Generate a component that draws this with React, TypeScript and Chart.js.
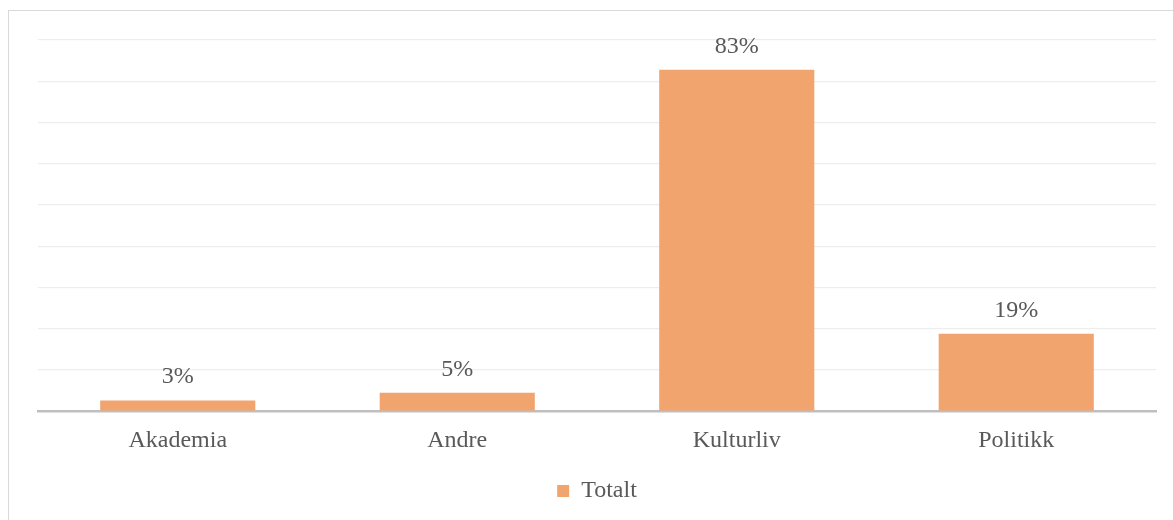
import React, { useEffect, useRef } from "react";
import { Chart, registerables } from "chart.js";

Chart.register(...registerables);

const categories = ["Akademia", "Andre", "Kulturliv", "Politikk"];
const seriesName = "Totalt";
const totalt = [2.6, 4.5, 82.8, 18.8];

const FONT = "'Liberation Serif', 'Times New Roman', serif";
const TEXT = "#595959";
const BAR = "#F1A46E";

const valueLabels = {
  id: "valueLabels",
  afterDatasetsDraw(chart: any) {
    const ctx = chart.ctx;
    ctx.save();
    ctx.font = `24px ${FONT}`;
    ctx.fillStyle = TEXT;
    ctx.textAlign = "center";
    ctx.textBaseline = "alphabetic";
    chart.data.datasets.forEach((ds: any, di: number) => {
      const meta = chart.getDatasetMeta(di);
      meta.data.forEach((bar: any, i: number) => {
        ctx.fillText(Math.round(ds.data[i]) + "%", bar.x, bar.y - 17);
      });
    });
    ctx.restore();
  },
};

export default function App() {
  const ref = useRef<HTMLCanvasElement>(null);
  useEffect(() => {
    const chart = new Chart(ref.current!, {
      type: "bar",
      data: {
        labels: categories,
        datasets: [
          {
            label: seriesName,
            data: totalt,
            backgroundColor: BAR,
            borderWidth: 0,
            barPercentage: 0.555,
            categoryPercentage: 1,
          },
        ],
      },
      options: {
        responsive: false,
        animation: false,
        maintainAspectRatio: false,
        layout: { padding: { left: 38, right: 17, top: 40, bottom: 7 } },
        scales: {
          x: {
            grid: { display: false, drawTicks: false },
            border: { display: true, color: "#BFBFBF", width: 2.5 },
            ticks: { font: { family: FONT, size: 24 }, color: TEXT, padding: 15 },
          },
          y: {
            min: 0,
            max: 90,
            ticks: { display: false, stepSize: 10 },
            grid: { color: (c: any) => (c.tick && c.tick.value === 0 ? "rgba(0,0,0,0)" : "#EDEDED"), lineWidth: 1.3, drawTicks: false },
            border: { display: false },
          },
        },
        plugins: {
          legend: {
            position: "bottom",
            labels: {
              font: { family: FONT, size: 24 },
              color: TEXT,
              boxWidth: 12,
              boxHeight: 12,
              padding: 9,
            },
          },
          tooltip: { enabled: false },
        },
      },
      plugins: [valueLabels],
    });
    return () => chart.destroy();
  }, []);
  return (
    <div style={{ position: "fixed", left: 0, top: 0, width: 1173, height: 520, background: "#fff", overflow: "hidden" }}>
      <div style={{ position: "absolute", left: 8, top: 10, width: 1200, height: 600, border: "1.5px solid #D9D9D9" }} />
      <canvas ref={ref} width={1173} height={520} style={{ position: "absolute", left: 0, top: 0 }} />
    </div>
  );
}
